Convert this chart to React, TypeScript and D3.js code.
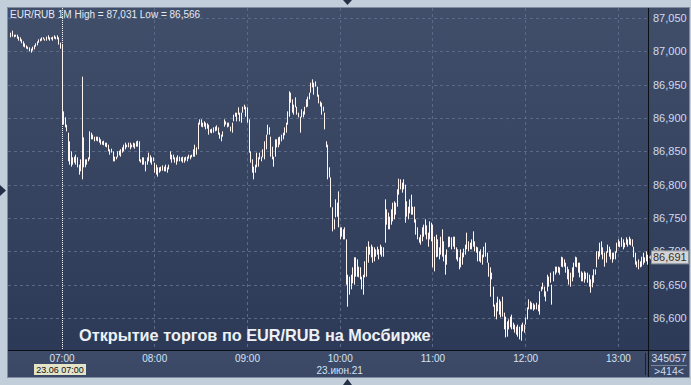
import React, { useRef, useEffect } from 'react';
import * as d3 from 'd3';

// EUR/RUB, 1-minute bars, 23.06.2021 from 06:27
const startTime = '2021-06-23 06:27';
const axisStart = '2021-06-23 07:00';
const axisEnd = '2021-06-23 13:00';
const cursorTime = '2021-06-23 07:00';
const dateTickTime = '2021-06-23 10:00';

const priceTicks = [86.6, 86.65, 86.7, 86.75, 86.8, 86.85, 86.9, 86.95, 87.0, 87.05];

const highs = [
  // 06:27 - 06:59
  87.028, 87.031, 87.025, 87.025, 87.025, 87.022, 87.021, 87.018, 87.015, 87.012,
  87.009, 87.007, 87.006, 87.004, 87.007, 87.009, 87.012, 87.015, 87.018, 87.019,
  87.021, 87.021, 87.019, 87.022, 87.024, 87.021, 87.021, 87.022, 87.024, 87.022,
  87.024, 87.021, 87.013,
  // 07:00 - 08:08
  87.010, 86.910, 86.901, 86.890, 86.878, 86.865, 86.850, 86.841, 86.842, 86.845,
  86.841, 86.830, 86.838, 86.962, 86.871, 86.838, 86.838, 86.841, 86.880, 86.878,
  86.875, 86.872, 86.872, 86.872, 86.871, 86.868, 86.865, 86.866, 86.863, 86.863,
  86.860, 86.853, 86.854, 86.850, 86.842, 86.842, 86.850, 86.851, 86.853, 86.856,
  86.860, 86.863, 86.860, 86.863, 86.863, 86.860, 86.863, 86.862, 86.865, 86.866,
  86.865, 86.838, 86.841, 86.841, 86.835, 86.841, 86.848, 86.844, 86.841, 86.841,
  86.833, 86.830, 86.826, 86.826, 86.827, 86.829, 86.827, 86.830, 86.826,
  // 08:09 - 09:52
  86.830, 86.850, 86.845, 86.845, 86.841, 86.841, 86.844, 86.842, 86.841, 86.842,
  86.841, 86.842, 86.842, 86.845, 86.844, 86.845, 86.853, 86.860, 86.856, 86.893,
  86.898, 86.898, 86.893, 86.895, 86.893, 86.892, 86.890, 86.883, 86.884, 86.886,
  86.887, 86.889, 86.886, 86.878, 86.875, 86.880, 86.898, 86.895, 86.893, 86.893,
  86.887, 86.893, 86.905, 86.908, 86.908, 86.916, 86.908, 86.908, 86.917, 86.920,
  86.917, 86.916, 86.898, 86.850, 86.838, 86.827, 86.830, 86.848, 86.841, 86.848,
  86.842, 86.853, 86.865, 86.875, 86.890, 86.886, 86.872, 86.857, 86.842, 86.868,
  86.868, 86.871, 86.872, 86.875, 86.878, 86.886, 86.893, 86.910, 86.940, 86.938,
  86.928, 86.920, 86.931, 86.917, 86.908, 86.902, 86.913, 86.910, 86.917, 86.928,
  86.932, 86.938, 86.953, 86.958, 86.953, 86.955, 86.947, 86.935, 86.925, 86.923,
  86.917, 86.908, 86.865, 86.860,
  // 09:53 - 11:36
  86.826, 86.811, 86.766, 86.748, 86.778, 86.773, 86.790, 86.736, 86.736, 86.733,
  86.736, 86.718, 86.665, 86.662, 86.665, 86.676, 86.691, 86.691, 86.688, 86.677,
  86.676, 86.662, 86.665, 86.685, 86.707, 86.715, 86.707, 86.710, 86.707, 86.706,
  86.703, 86.707, 86.703, 86.710, 86.707, 86.706, 86.778, 86.763, 86.758, 86.752,
  86.763, 86.773, 86.775, 86.773, 86.793, 86.809, 86.808, 86.803, 86.808, 86.800,
  86.775, 86.767, 86.778, 86.785, 86.767, 86.767, 86.748, 86.736, 86.721, 86.725,
  86.736, 86.740, 86.748, 86.739, 86.728, 86.745, 86.743, 86.740, 86.722, 86.725,
  86.718, 86.706, 86.722, 86.733, 86.715, 86.695, 86.703, 86.722, 86.722, 86.721,
  86.722, 86.722, 86.706, 86.703, 86.691, 86.703, 86.698, 86.704, 86.710, 86.728,
  86.715, 86.713, 86.718, 86.730, 86.715, 86.707, 86.706, 86.700, 86.703, 86.695,
  86.707, 86.713, 86.698, 86.683,
  // 11:37 - 13:19
  86.676, 86.668, 86.647, 86.620, 86.623, 86.632, 86.628, 86.625, 86.632, 86.608,
  86.602, 86.595, 86.598, 86.602, 86.605, 86.593, 86.590, 86.587, 86.590, 86.587,
  86.590, 86.593, 86.590, 86.601, 86.616, 86.628, 86.625, 86.623, 86.622, 86.620,
  86.623, 86.620, 86.640, 86.647, 86.653, 86.647, 86.640, 86.665, 86.662, 86.668,
  86.650, 86.670, 86.677, 86.677, 86.677, 86.676, 86.692, 86.691, 86.688, 86.683,
  86.677, 86.673, 86.668, 86.676, 86.683, 86.692, 86.691, 86.683, 86.683, 86.670,
  86.668, 86.670, 86.668, 86.668, 86.665, 86.658, 86.664, 86.673, 86.673, 86.700,
  86.700, 86.713, 86.715, 86.706, 86.698, 86.700, 86.710, 86.707, 86.703, 86.698,
  86.698, 86.700, 86.713, 86.718, 86.715, 86.721, 86.718, 86.713, 86.721, 86.718,
  86.722, 86.719, 86.718, 86.707, 86.698, 86.685, 86.688, 86.685, 86.692, 86.698,
  86.691, 86.700, 86.695,
];

const lows = [
  // 06:27 - 06:59
  87.021, 87.022, 87.021, 87.022, 87.019, 87.016, 87.015, 87.012, 87.007, 87.006,
  87.004, 87.003, 87.000, 86.998, 87.001, 87.003, 87.007, 87.009, 87.013, 87.015,
  87.016, 87.018, 87.016, 87.016, 87.018, 87.016, 87.018, 87.016, 87.019, 87.018,
  87.018, 87.010, 87.004,
  // 07:00 - 08:08
  86.890, 86.890, 86.886, 86.880, 86.835, 86.830, 86.827, 86.830, 86.833, 86.830,
  86.826, 86.815, 86.820, 86.808, 86.826, 86.826, 86.830, 86.835, 86.838, 86.868,
  86.868, 86.865, 86.866, 86.865, 86.863, 86.860, 86.860, 86.859, 86.857, 86.856,
  86.850, 86.845, 86.848, 86.835, 86.835, 86.838, 86.841, 86.844, 86.842, 86.848,
  86.850, 86.853, 86.856, 86.856, 86.853, 86.856, 86.856, 86.854, 86.857, 86.857,
  86.835, 86.833, 86.830, 86.830, 86.820, 86.830, 86.835, 86.833, 86.830, 86.835,
  86.818, 86.815, 86.812, 86.818, 86.820, 86.821, 86.820, 86.820, 86.818,
  // 08:09 - 09:52
  86.823, 86.838, 86.833, 86.838, 86.833, 86.830, 86.835, 86.835, 86.835, 86.833,
  86.833, 86.836, 86.835, 86.839, 86.838, 86.841, 86.842, 86.842, 86.845, 86.853,
  86.890, 86.887, 86.886, 86.887, 86.883, 86.884, 86.875, 86.878, 86.877, 86.878,
  86.880, 86.881, 86.875, 86.869, 86.865, 86.872, 86.887, 86.890, 86.886, 86.887,
  86.880, 86.878, 86.895, 86.902, 86.895, 86.905, 86.895, 86.893, 86.908, 86.913,
  86.902, 86.893, 86.848, 86.833, 86.818, 86.808, 86.818, 86.826, 86.827, 86.838,
  86.835, 86.841, 86.838, 86.853, 86.875, 86.875, 86.842, 86.838, 86.827, 86.842,
  86.856, 86.856, 86.860, 86.865, 86.868, 86.874, 86.878, 86.890, 86.902, 86.923,
  86.908, 86.905, 86.916, 86.905, 86.901, 86.878, 86.901, 86.901, 86.905, 86.916,
  86.917, 86.928, 86.938, 86.946, 86.935, 86.947, 86.932, 86.922, 86.917, 86.905,
  86.910, 86.883, 86.856, 86.808,
  // 09:53 - 11:36
  86.811, 86.766, 86.730, 86.733, 86.751, 86.752, 86.736, 86.718, 86.722, 86.718,
  86.718, 86.650, 86.617, 86.635, 86.643, 86.652, 86.650, 86.662, 86.662, 86.661,
  86.658, 86.643, 86.635, 86.661, 86.662, 86.683, 86.695, 86.691, 86.683, 86.685,
  86.692, 86.695, 86.688, 86.695, 86.692, 86.692, 86.713, 86.740, 86.733, 86.733,
  86.740, 86.745, 86.748, 86.755, 86.767, 86.785, 86.793, 86.788, 86.793, 86.743,
  86.752, 86.748, 86.757, 86.755, 86.755, 86.743, 86.725, 86.718, 86.713, 86.710,
  86.715, 86.722, 86.725, 86.718, 86.707, 86.718, 86.715, 86.676, 86.670, 86.691,
  86.692, 86.688, 86.695, 86.692, 86.685, 86.665, 86.680, 86.706, 86.707, 86.703,
  86.707, 86.703, 86.688, 86.685, 86.673, 86.676, 86.680, 86.691, 86.695, 86.703,
  86.700, 86.703, 86.703, 86.707, 86.700, 86.698, 86.685, 86.685, 86.683, 86.680,
  86.691, 86.692, 86.683, 86.662,
  // 11:37 - 13:19
  86.632, 86.658, 86.617, 86.602, 86.598, 86.610, 86.605, 86.601, 86.602, 86.583,
  86.571, 86.572, 86.583, 86.586, 86.583, 86.583, 86.578, 86.575, 86.572, 86.568,
  86.566, 86.580, 86.578, 86.590, 86.598, 86.613, 86.613, 86.613, 86.611, 86.613,
  86.613, 86.610, 86.605, 86.640, 86.643, 86.632, 86.625, 86.640, 86.647, 86.653,
  86.620, 86.655, 86.665, 86.668, 86.668, 86.665, 86.677, 86.676, 86.677, 86.668,
  86.658, 86.650, 86.647, 86.655, 86.661, 86.677, 86.676, 86.668, 86.661, 86.655,
  86.655, 86.653, 86.658, 86.653, 86.647, 86.638, 86.646, 86.653, 86.665, 86.676,
  86.688, 86.692, 86.695, 86.688, 86.677, 86.683, 86.698, 86.692, 86.688, 86.683,
  86.688, 86.688, 86.698, 86.707, 86.706, 86.707, 86.703, 86.706, 86.710, 86.707,
  86.710, 86.709, 86.707, 86.691, 86.680, 86.676, 86.673, 86.676, 86.677, 86.680,
  86.683, 86.685, 86.680,
];

const lastPrice = 86.691;
const titleText = 'EUR/RUB 1M High = 87,031 Low = 86,566';
const noteText = 'Открытие торгов по EUR/RUB на Мосбирже';
const dateText = '23.июн.21';
const cursorText = '23.06 07:00';
const volumeText = '345057';
const countText = '>414<';

const App = () => {
  const svgRef = useRef(null);

  useEffect(() => {
    const width = 691;
    const height = 385;
    const plot = { left: 8, top: 8, right: 648, bottom: 350 };
    const frameRight = 689;
    const frameBottom = 377;
    const font = '"Liberation Sans", Arial, sans-serif';

    const svg = d3.select(svgRef.current);
    svg.selectAll('*').remove();
    svg.attr('width', width).attr('height', height).attr('viewBox', [0, 0, width, height]);

    const parse = d3.timeParse('%Y-%m-%d %H:%M');
    const start = parse(startTime);

    const x = d3.scaleTime()
      .domain([parse(axisStart), parse(axisEnd)])
      .range([61.5, 617.9]);

    const y = d3.scaleLinear()
      .domain([86.6, 87.05])
      .range([318, 18]);

    const fmtPrice = (v) => d3.format('.3f')(v).replace('.', ',');

    // gradients
    const defs = svg.append('defs');
    const grad = defs.append('linearGradient').attr('id', 'plotBg')
      .attr('x1', 0).attr('y1', 0).attr('x2', 0).attr('y2', 1);
    grad.append('stop').attr('offset', '0%').attr('stop-color', '#414e6a');
    grad.append('stop').attr('offset', '100%').attr('stop-color', '#2d3a57');
    const grad2 = defs.append('linearGradient').attr('id', 'axisBg')
      .attr('x1', 0).attr('y1', 0).attr('x2', 0).attr('y2', 1);
    grad2.append('stop').attr('offset', '0%').attr('stop-color', '#3d4b69');
    grad2.append('stop').attr('offset', '100%').attr('stop-color', '#3a4765');

    // outer background
    svg.append('rect').attr('width', width).attr('height', height).attr('fill', '#c3cedb');
    svg.append('rect')
      .attr('x', plot.left - 1).attr('y', plot.top - 1)
      .attr('width', frameRight - plot.left + 2).attr('height', frameBottom - plot.top + 2)
      .attr('fill', '#7f8da3');
    svg.append('rect')
      .attr('x', plot.left).attr('y', plot.top)
      .attr('width', frameRight - plot.left).attr('height', plot.bottom - plot.top)
      .attr('fill', 'url(#plotBg)');
    svg.append('rect')
      .attr('x', plot.left).attr('y', plot.bottom)
      .attr('width', frameRight - plot.left).attr('height', frameBottom - plot.bottom)
      .attr('fill', 'url(#axisBg)');

    // grid
    const grid = svg.append('g').attr('stroke', '#5a6986').attr('stroke-dasharray', '3,3');
    grid.selectAll('line.h')
      .data(priceTicks)
      .join('line')
      .attr('x1', plot.left).attr('x2', plot.right)
      .attr('y1', d => Math.round(y(d)) + 0.5).attr('y2', d => Math.round(y(d)) + 0.5);
    const hours = x.ticks(d3.timeHour.every(1));
    grid.selectAll('line.v')
      .data(hours)
      .join('line')
      .attr('x1', d => Math.round(x(d)) + 0.5).attr('x2', d => Math.round(x(d)) + 0.5)
      .attr('y1', plot.top).attr('y2', plot.bottom);

    // cursor line at market open
    const cx = Math.round(x(parse(cursorTime))) + 0.5;
    svg.append('line')
      .attr('x1', cx).attr('x2', cx).attr('y1', plot.top).attr('y2', plot.bottom)
      .attr('stroke', '#f4f4f4').attr('stroke-dasharray', '1,1');

    // bars
    svg.append('g')
      .selectAll('rect')
      .data(highs.map((h, i) => ({ t: d3.timeMinute.offset(start, i), h, l: lows[i] })))
      .join('rect')
      .attr('x', d => Math.round(x(d.t)))
      .attr('y', d => y(d.h))
      .attr('width', 1)
      .attr('height', d => Math.max(1.5, y(d.l) - y(d.h)))
      .attr('fill', '#fff4ef');

    // separators
    svg.append('line')
      .attr('x1', plot.right + 0.5).attr('x2', plot.right + 0.5)
      .attr('y1', plot.top).attr('y2', frameBottom)
      .attr('stroke', '#0c0f16');
    svg.append('line')
      .attr('x1', plot.left).attr('x2', frameRight)
      .attr('y1', plot.bottom + 0.5).attr('y2', plot.bottom + 0.5)
      .attr('stroke', '#0c0f16');
    svg.append('line')
      .attr('x1', 645.5).attr('x2', 645.5)
      .attr('y1', plot.bottom + 3).attr('y2', frameBottom - 2)
      .attr('stroke', '#1c2232');

    // y axis labels
    const yAxis = svg.append('g')
      .attr('transform', `translate(${plot.right + 2},0)`)
      .call(d3.axisRight(y).tickValues(priceTicks).tickSize(0).tickFormat(fmtPrice));
    yAxis.select('.domain').remove();
    yAxis.selectAll('text')
      .attr('fill', '#cfdcef').attr('font-family', font).attr('font-size', 11);

    // x axis labels
    const xAxis = svg.append('g')
      .attr('transform', `translate(0,${plot.bottom + 2})`)
      .call(d3.axisBottom(x).ticks(d3.timeHour.every(1)).tickSize(0).tickFormat(d3.timeFormat('%H:%M')));
    xAxis.select('.domain').remove();
    xAxis.selectAll('text')
      .attr('fill', '#d5e2f3').attr('font-family', font).attr('font-size', 10);

    svg.append('text')
      .attr('x', x(parse(dateTickTime))).attr('y', 374)
      .attr('text-anchor', 'middle')
      .attr('fill', '#d5e2f3').attr('font-family', font).attr('font-size', 10)
      .text(dateText);

    // cursor time label
    const cl = svg.append('g');
    cl.append('rect')
      .attr('x', 34).attr('y', 364).attr('width', 52).attr('height', 11)
      .attr('fill', '#e4e4c8');
    cl.append('text')
      .attr('x', 60).attr('y', 373)
      .attr('text-anchor', 'middle')
      .attr('fill', '#111').attr('font-family', font).attr('font-size', 9)
      .text(cursorText);

    // last price marker
    const ly = y(lastPrice);
    svg.append('path')
      .attr('d', `M${plot.right + 1},${ly} L${plot.right + 4},${ly - 4} L${plot.right + 4},${ly + 4}Z`)
      .attr('fill', '#c9ccd0');
    svg.append('rect')
      .attr('x', plot.right + 3.5).attr('y', ly - 6.5).attr('width', 37).attr('height', 13)
      .attr('fill', '#d3d5d8').attr('stroke', '#8e949c');
    svg.append('text')
      .attr('x', plot.right + 5).attr('y', ly + 4)
      .attr('fill', '#3a2e22').attr('font-family', font).attr('font-size', 11)
      .text(fmtPrice(lastPrice));

    // volume / count box
    svg.append('text')
      .attr('x', 669).attr('y', 362)
      .attr('text-anchor', 'middle')
      .attr('fill', '#cfdcef').attr('font-family', font).attr('font-size', 10.5)
      .text(volumeText);
    svg.append('line')
      .attr('x1', 651).attr('x2', 687).attr('y1', 365.5).attr('y2', 365.5)
      .attr('stroke', '#7886a0');
    svg.append('text')
      .attr('x', 669).attr('y', 375)
      .attr('text-anchor', 'middle')
      .attr('fill', '#cfdcef').attr('font-family', font).attr('font-size', 10.5)
      .text(countText);

    // title and note
    svg.append('text')
      .attr('x', 10).attr('y', 18)
      .attr('fill', '#e3eaf4').attr('font-family', font).attr('font-size', 10)
      .text(titleText);
    svg.append('text')
      .attr('x', 79).attr('y', 341)
      .attr('fill', '#edf1f6').attr('font-family', font).attr('font-size', 16.3)
      .attr('font-weight', 'bold')
      .text(noteText);

    // edge markers
    const tri = svg.append('g').attr('fill', '#243048');
    tri.append('path').attr('d', 'M343,0 L352,0 L347.5,5Z');
    tri.append('path').attr('d', 'M343,385 L352,385 L347.5,379Z');
    tri.append('path').attr('d', 'M0,185 L6,190.5 L0,196Z');
  }, []);

  return (
    <div style={{ position: 'absolute', left: 0, top: 0 }}>
      <svg ref={svgRef}></svg>
    </div>
  );
};

export default App;
